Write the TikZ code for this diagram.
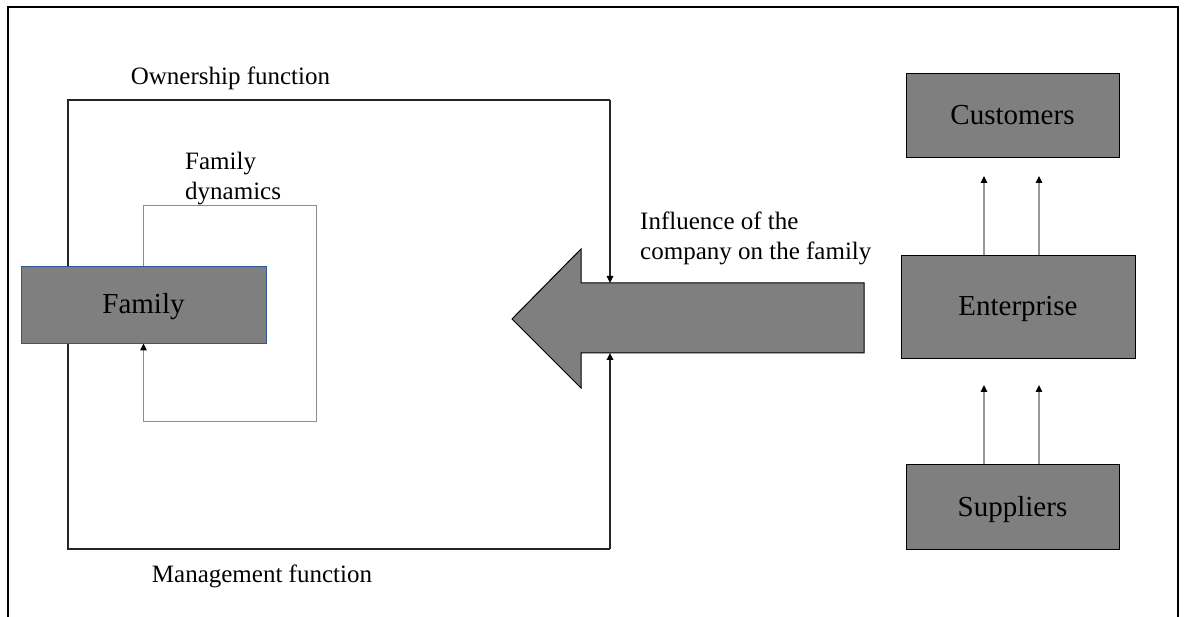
\documentclass[tikz,border=0pt]{standalone}
\usepackage{fontspec}
\setmainfont{Liberation Serif}
\usetikzlibrary{arrows.meta}
\definecolor{boxgray}{HTML}{7F7F7F}
\definecolor{famblue}{HTML}{2F5597}
\definecolor{loopgray}{HTML}{8C8C8C}
\definecolor{linegray}{HTML}{999999}

\begin{document}
\begin{tikzpicture}[x=1pt,y=-1pt,
  tip/.style={-{Triangle[color=black,length=7pt,width=6.5pt]}},
  block/.style={draw=black,line width=0.9pt,fill=boxgray,inner sep=0pt,
    text height=22pt,text depth=3pt,font=\fontsize{29}{34}\selectfont},
  lbl/.style={inner sep=0pt,font=\fontsize{25}{30}\selectfont},
  frameline/.style={draw=black,line width=1.3pt},
  boxline/.style={draw=black!85,line width=1.3pt},
  loopline/.style={draw=loopgray,line width=1pt},
  flowline/.style={draw=linegray,line width=1.1pt}
]
\useasboundingbox (0,0) rectangle (1186,617);

% page frame (open at the bottom)
\draw[frameline] (8,617) -- (8,7) -- (1178,7) -- (1178,617);

% corners of the ownership / management box
\coordinate (tl) at (68,100);
\coordinate (tr) at (610,100);
\coordinate (bl) at (68,549);
\coordinate (br) at (610,549);

% big arrow: influence of the company on the family
\coordinate (atip) at (512,319);
\coordinate (shafttop) at (610,283);
\coordinate (shaftbot) at (610,353);
\draw[fill=boxgray,draw=black,line width=1pt]
  (atip) -- (581,249) -- (581,283) -- (864,283) -- (864,353)
  -- (581,353) -- (581,388) -- cycle;

% ownership and management lines
\draw[boxline] (tr) -- (tl) -- (bl) -- (br);
\draw[boxline,tip] (tr) -- (shafttop);
\draw[boxline,line width=1.8pt,tip] (br) -- (shaftbot);

% family node and its dynamics loop
\node[block,draw=famblue,minimum width=245pt,minimum height=77pt] (fam) at (143.5,304.5) {Family};
\draw[loopline,tip] (fam.north) |- (316,206) -- (316,421) -| (fam.south);

% right-hand column
\node[block,minimum width=213pt,minimum height=84pt] (cust) at (1012.5,115) {Customers};
\node[block,minimum width=234pt,minimum height=103pt] (ent) at (1018,306.5) {Enterprise};
\node[block,minimum width=213pt,minimum height=85pt] (supp) at (1012.5,506.5) {Suppliers};

\coordinate (c1) at (984,176);
\coordinate (c2) at (1039,176);
\coordinate (e1) at (984,385);
\coordinate (e2) at (1039,385);
\draw[flowline,tip] (ent.north -| c1) -- (c1);
\draw[flowline,tip] (ent.north -| c2) -- (c2);
\draw[flowline,tip] (supp.north -| e1) -- (e1);
\draw[flowline,tip] (supp.north -| e2) -- (e2);

% labels
\node[lbl,anchor=base] (own) at (230.5,85) {Ownership function};
\node[lbl,anchor=base] (mgmt) at (262,582) {Management function};
\node[lbl,anchor=north west,align=left] (dyn) at (185,152) {Family\\dynamics};
\node[lbl,anchor=north west,align=left] (infl) at (640,212) {Influence of the\\company on the family};
\end{tikzpicture}
\end{document}
